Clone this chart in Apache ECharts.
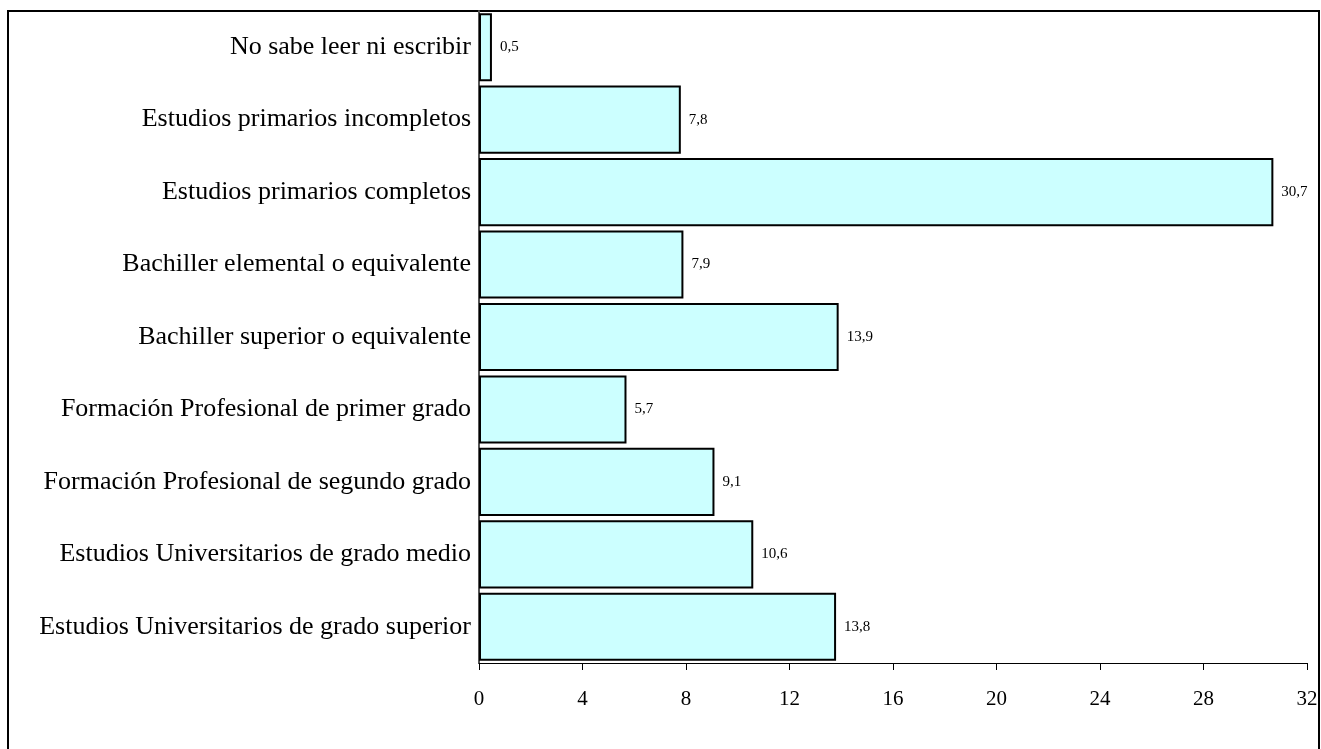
<!DOCTYPE html>
<html><head><meta charset="utf-8">
<script src="https://cdn.jsdelivr.net/npm/echarts@6/dist/echarts.min.js"></script>
<style>html,body{margin:0;padding:0;background:#fff}#c{width:1321px;height:749px}</style>
</head><body><div id="c"></div>
<script>
const categories = [
  "No sabe leer ni escribir",
  "Estudios primarios incompletos",
  "Estudios primarios completos",
  "Bachiller elemental o equivalente",
  "Bachiller superior o equivalente",
  "Formación Profesional de primer grado",
  "Formación Profesional de segundo grado",
  "Estudios Universitarios de grado medio",
  "Estudios Universitarios de grado superior"
];
const values = [0.5, 7.8, 30.7, 7.9, 13.9, 5.7, 9.1, 10.6, 13.8];
const xTicks = [0, 4, 8, 12, 16, 20, 24, 28, 32];

const chart = echarts.init(document.getElementById('c'), null, {renderer: 'canvas'});
const serif = '"Liberation Serif", "DejaVu Serif", serif';
chart.setOption({
  animation: false,
  backgroundColor: '#ffffff',
  graphic: [{
    type: 'rect', z: -1,
    shape: {x: 8, y: 11, width: 1311, height: 760},
    style: {fill: 'none', stroke: '#000', lineWidth: 2}
  }],
  grid: {left: 479, right: 14, top: 11, bottom: 86, containLabel: false},
  xAxis: {
    type: 'value', min: xTicks[0], max: xTicks[xTicks.length - 1], interval: 4,
    axisLine: {show: true, lineStyle: {color: '#000', width: 1}},
    axisTick: {show: true, length: 7, lineStyle: {color: '#000'}},
    splitLine: {show: false},
    axisLabel: {color: '#000', fontFamily: serif, fontSize: 21, margin: 26}
  },
  yAxis: {
    type: 'category', data: categories, inverse: true,
    axisLine: {show: true, lineStyle: {color: '#555', width: 2}},
    axisTick: {show: false},
    axisLabel: {color: '#000', fontFamily: serif, fontSize: 26, margin: 8}
  },
  series: [{
    type: 'bar', data: values, barCategoryGap: '6%',
    itemStyle: {color: '#CCFFFF', borderColor: '#000', borderWidth: 2},
    label: {
      show: true, position: 'right', distance: 8, color: '#000',
      fontFamily: serif, fontSize: 15,
      formatter: p => String(p.value).replace('.', ',')
    }
  }]
});
</script></body></html>
